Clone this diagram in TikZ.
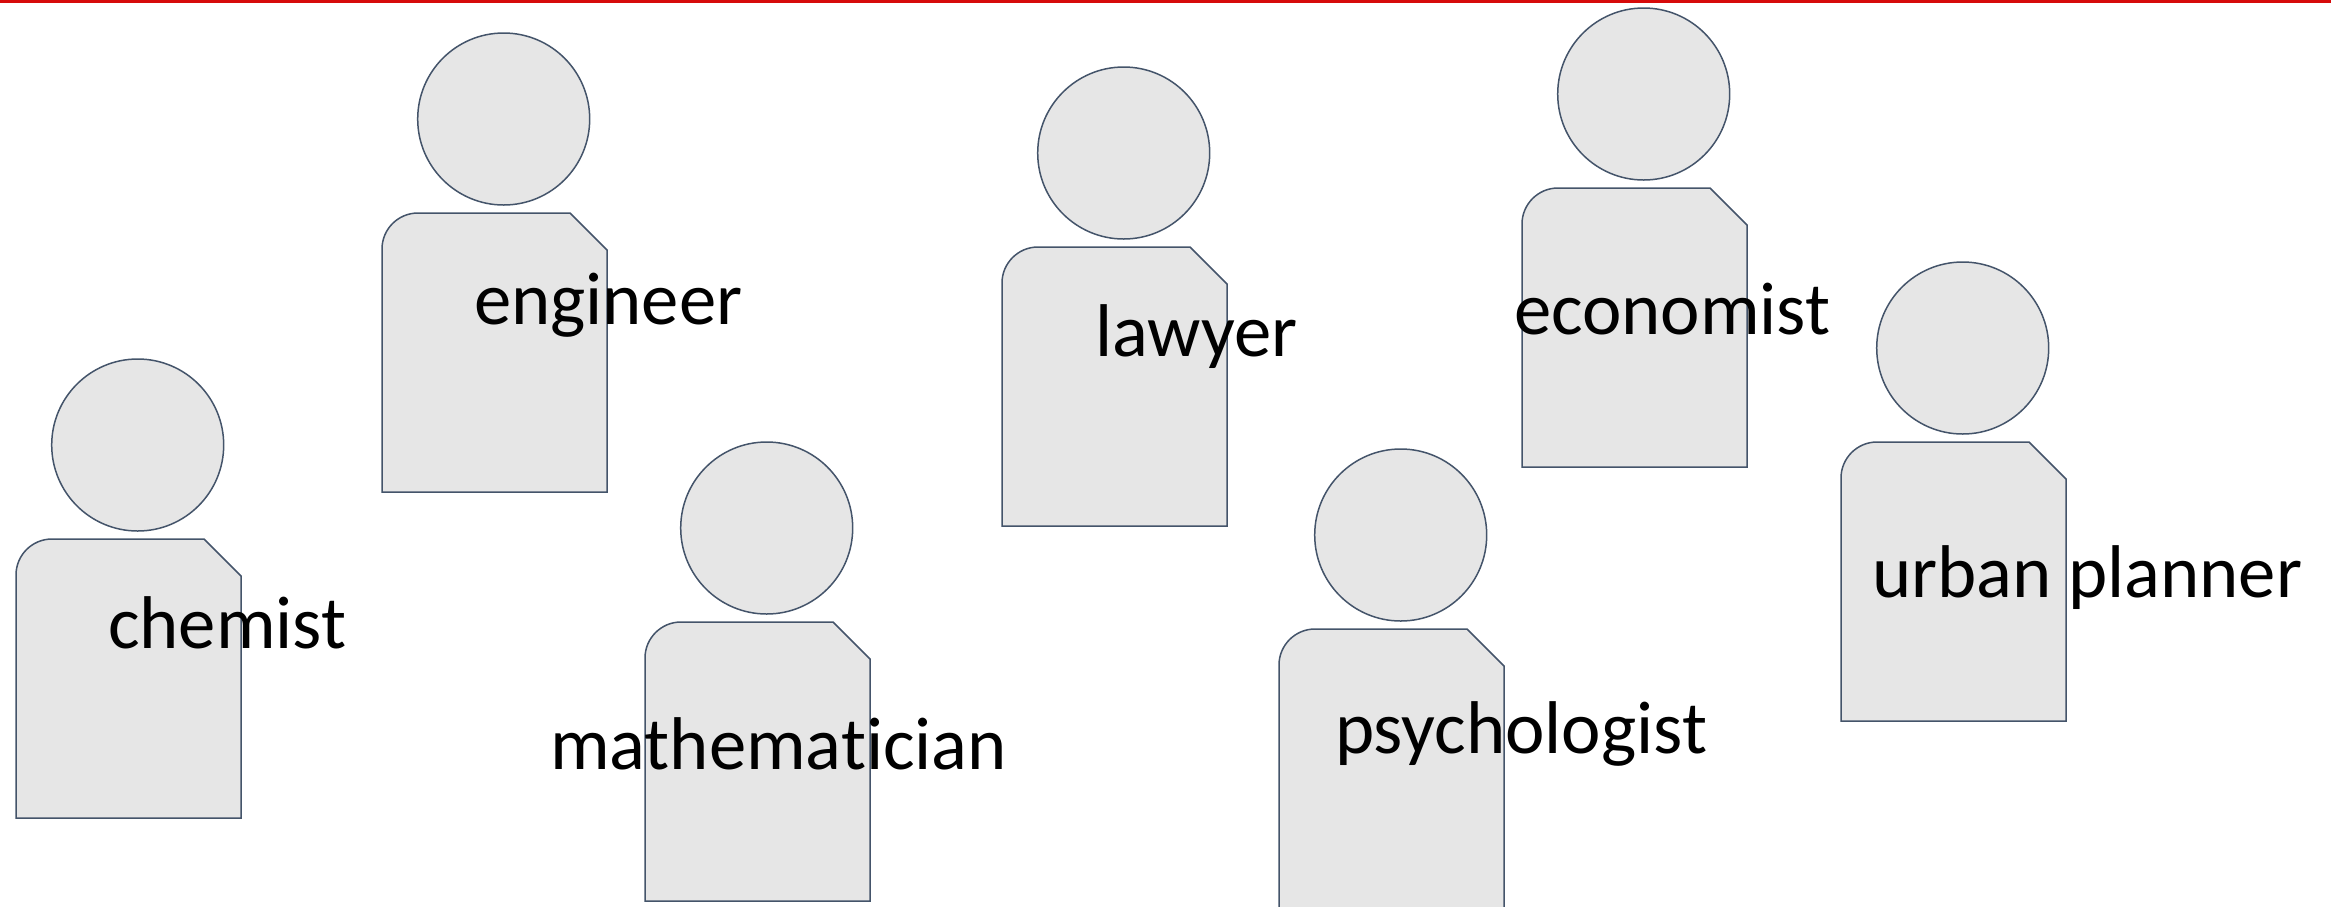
\documentclass[tikz,border=0pt]{standalone}
\usepackage{fontspec}
\setmainfont[Ligatures={NoCommon}]{Carlito}
\definecolor{shapefill}{HTML}{E6E6E6}
\definecolor{shapeline}{HTML}{44546A}
\definecolor{topred}{HTML}{D60A0A}
\tikzset{
  headshape/.style={circle,draw=shapeline,fill=shapefill,line width=1.5pt,minimum size=172pt,inner sep=0pt},
  bodyshape/.style={draw=shapeline,fill=shapefill,line width=1.5pt,line join=miter},
  rolelabel/.style={anchor=base west,inner sep=0pt,outer sep=0pt,text=black,font=\fontsize{74.7}{80}\selectfont}
}
\newcommand{\person}[3]{%
  \node[headshape] (#1head) at (#2+121.7,#3-94) {};
  \draw[bodyshape] (#2,#3+279) -- (#2,#3+36) arc[start angle=180,end angle=270,radius=36]
    -- (#2+188,#3) -- (#2+225,#3+37) -- (#2+225,#3+279) -- cycle;
}
\begin{document}
\begin{tikzpicture}[x=1pt,y=-1pt]
\useasboundingbox (0,0) rectangle (2331,906);
\clip (0,0) rectangle (2331,906);
\fill[topred] (0,0) rectangle (2331,3);
\person{chem}{16}{539}
\person{eng}{382}{213}
\person{math}{645}{622}
\person{law}{1002}{247}
\person{psy}{1279}{629}
\person{eco}{1522}{188}
\person{urb}{1841}{442}
\node[rolelabel] (chemist) at (108,648) {chemist};
\node[rolelabel] (engineer) at (474,324) {engineer};
\node[rolelabel] (mathematician) at (550,769) {mathematician};
\node[rolelabel] (lawyer) at (1095,356) {lawyer};
\node[rolelabel] (psychologist) at (1335,753) {psychologist};
\node[rolelabel] (economist) at (1514,334) {economist};
\node[rolelabel] (urban) at (1872,597) {urban planner};
\end{tikzpicture}
\end{document}
